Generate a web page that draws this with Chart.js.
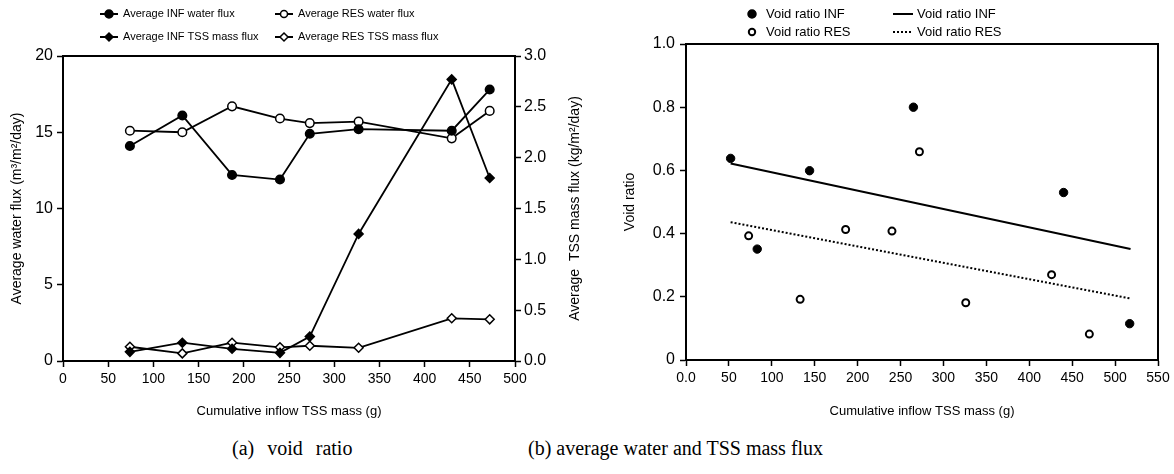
<!DOCTYPE html>
<html>
<head>
<meta charset="utf-8">
<script src="https://cdn.jsdelivr.net/npm/chart.js@4"></script>
<style>
  body { margin: 0; background: #fff; }
  #wrap { position: relative; width: 1174px; height: 474px; }
  canvas { position: absolute; top: 0; }
  .cap { position: absolute; top: 437px; font: 20px "Liberation Serif", "Times New Roman", serif; color: #000; white-space: nowrap; }
</style>
</head>
<body>
<div id="wrap">
  <canvas id="chartA" width="600" height="420" style="left:0"></canvas>
  <canvas id="chartB" width="594" height="420" style="left:580px"></canvas>
  <div class="cap" style="left:232px; word-spacing:8px">(a) void ratio</div>
  <div class="cap" style="left:528px">(b) average water and TSS mass flux</div>
</div>
<script>
// left chart: fluxes vs cumulative inflow TSS mass
const tssMass = [74, 132, 187, 240, 273, 327, 430, 472];
const infWater = [14.1, 16.1, 12.2, 11.9, 14.9, 15.2, 15.1, 17.8];
const resWater = [15.1, 15.0, 16.7, 15.9, 15.6, 15.7, 14.6, 16.4];
const infTss = [0.09, 0.18, 0.12, 0.08, 0.24, 1.25, 2.77, 1.80];
const resTss = [0.14, 0.075, 0.18, 0.135, 0.15, 0.13, 0.42, 0.41];

// right chart: void ratio
const infMass = [52, 83, 144, 265, 440, 517];
const infVoid = [0.638, 0.351, 0.599, 0.80, 0.53, 0.115];
const resMass = [73, 133, 186, 240, 272, 326, 426, 470];
const resVoid = [0.393, 0.192, 0.413, 0.408, 0.659, 0.181, 0.27, 0.082];
const infTrendX = [52, 518];
const infTrendY = [0.622, 0.351];
const resTrendX = [52, 517];
const resTrendY = [0.436, 0.195];

Chart.defaults.font.family = '"Liberation Sans", Arial, sans-serif';
Chart.defaults.color = '#000';

function pairs(xs, ys) {
    return xs.map((x, i) => ({ x: x, y: ys[i] }));
}

// top and right frame lines
const boxPlugin = {
    id: 'box',
    afterDraw(chart) {
        const a = chart.chartArea;
        const ctx = chart.ctx;
        ctx.save();
        ctx.strokeStyle = '#000';
        ctx.lineWidth = 2;
        ctx.beginPath();
        ctx.moveTo(a.left - 1, a.top);
        ctx.lineTo(a.right, a.top);
        ctx.lineTo(a.right, a.bottom);
        ctx.stroke();
        ctx.restore();
    }
};

// right axis title reads bottom to top like the left one
const rightTitlePlugin = {
    id: 'rightTitle',
    afterDraw(chart) {
        const a = chart.chartArea;
        const ctx = chart.ctx;
        ctx.save();
        ctx.translate(575, (a.top + a.bottom) / 2);
        ctx.rotate(-Math.PI / 2);
        ctx.font = '14px "Liberation Sans", Arial, sans-serif';
        ctx.fillStyle = '#000';
        ctx.textAlign = 'center';
        ctx.textBaseline = 'middle';
        ctx.fillText('Average  TSS mass flux (kg/m\u00b2/day)', 0, 0);
        ctx.restore();
    }
};

function drawMarker(ctx, style, x, y, r, fill) {
    ctx.beginPath();
    if (style === 'rectRot') {
        ctx.moveTo(x, y - r); ctx.lineTo(x + r, y); ctx.lineTo(x, y + r); ctx.lineTo(x - r, y);
        ctx.closePath();
    } else {
        ctx.arc(x, y, r, 0, Math.PI * 2);
    }
    ctx.fillStyle = fill;
    ctx.fill();
    ctx.stroke();
}

function legendPlugin(items, font) {
    return {
        id: 'customLegend',
        afterDraw(chart) {
            const ctx = chart.ctx;
            ctx.save();
            ctx.font = font;
            ctx.textBaseline = 'middle';
            ctx.strokeStyle = '#000';
            items.forEach(it => {
                if (it.line) {
                    ctx.lineWidth = 2;
                    ctx.setLineDash(it.dash || []);
                    ctx.beginPath();
                    ctx.moveTo(it.x1, it.y);
                    ctx.lineTo(it.x2, it.y);
                    ctx.stroke();
                    ctx.setLineDash([]);
                }
                if (it.marker) {
                    ctx.lineWidth = it.mw || 1.5;
                    drawMarker(ctx, it.marker, (it.x1 + it.x2) / 2, it.y, it.r, it.fill);
                }
                ctx.fillStyle = '#000';
                ctx.fillText(it.text, it.tx, it.y);
            });
            ctx.restore();
        }
    };
}

const axisBorder = { display: true, color: '#000', width: 2 };
const tickGrid = { drawOnChartArea: false, drawTicks: true, tickLength: 6, tickColor: '#000', tickWidth: 1.5 };

new Chart(document.getElementById('chartA'), {
    type: 'scatter',
    data: {
        datasets: [
            { label: 'Average INF water flux', data: pairs(tssMass, infWater), yAxisID: 'y', showLine: true,
              borderColor: '#000', borderWidth: 1.8, pointStyle: 'circle', pointRadius: 4.3,
              pointBackgroundColor: '#000', pointBorderColor: '#000', pointBorderWidth: 1.5 },
            { label: 'Average RES water flux', data: pairs(tssMass, resWater), yAxisID: 'y', showLine: true,
              borderColor: '#000', borderWidth: 1.8, pointStyle: 'circle', pointRadius: 4.3,
              pointBackgroundColor: '#fff', pointBorderColor: '#000', pointBorderWidth: 1.5 },
            { label: 'Average INF TSS mass flux', data: pairs(tssMass, infTss), yAxisID: 'y2', showLine: true,
              borderColor: '#000', borderWidth: 1.8, pointStyle: 'rectRot', pointRadius: 4.5,
              pointBackgroundColor: '#000', pointBorderColor: '#000', pointBorderWidth: 1.5 },
            { label: 'Average RES TSS mass flux', data: pairs(tssMass, resTss), yAxisID: 'y2', showLine: true,
              borderColor: '#000', borderWidth: 1.8, pointStyle: 'rectRot', pointRadius: 4.5,
              pointBackgroundColor: '#fff', pointBorderColor: '#000', pointBorderWidth: 1.5 }
        ]
    },
    options: {
        responsive: false,
        animation: false,
        layout: { padding: { left: 9, right: 17, top: 56, bottom: 0 } },
        plugins: { legend: { display: false }, tooltip: { enabled: false } },
        scales: {
            x: {
                type: 'linear', min: 0, max: 500,
                ticks: { stepSize: 50, font: { size: 14 }, padding: 4, maxRotation: 0 },
                grid: tickGrid, border: axisBorder,
                title: { display: true, text: 'Cumulative inflow TSS mass (g)', font: { size: 13 }, padding: { top: 0, bottom: 1 } },
                afterFit(s) { s.height = 59; }
            },
            y: {
                position: 'left', min: 0, max: 20,
                ticks: { stepSize: 5, font: { size: 16 }, padding: 4 },
                grid: tickGrid, border: axisBorder,
                title: { display: true, text: 'Average water flux (m\u00b3/m\u00b2/day)', font: { size: 14 }, padding: 0 },
                afterFit(s) { s.width = 54; }
            },
            y2: {
                position: 'right', min: 0, max: 3,
                ticks: { stepSize: 0.5, font: { size: 16 }, padding: 3, callback: v => v.toFixed(1) },
                grid: tickGrid, border: axisBorder,
                afterFit(s) { s.width = 68; }
            }
        }
    },
    plugins: [boxPlugin, rightTitlePlugin, legendPlugin([
        { line: true, x1: 100, x2: 118, y: 14, marker: 'circle', r: 4, fill: '#000', tx: 123, text: 'Average INF water flux' },
        { line: true, x1: 275, x2: 293, y: 14, marker: 'circle', r: 3.5, fill: '#fff', tx: 298, text: 'Average RES water flux' },
        { line: true, x1: 100, x2: 118, y: 37, marker: 'rectRot', r: 4, fill: '#000', tx: 123, text: 'Average INF TSS mass flux' },
        { line: true, x1: 275, x2: 293, y: 37, marker: 'rectRot', r: 4, fill: '#fff', tx: 298, text: 'Average RES TSS mass flux' }
    ], '11px "Liberation Sans", Arial, sans-serif')]
});

new Chart(document.getElementById('chartB'), {
    type: 'scatter',
    data: {
        datasets: [
            { label: 'Void ratio INF', data: pairs(infMass, infVoid), pointStyle: 'circle', pointRadius: 4.2,
              pointBackgroundColor: '#000', pointBorderColor: '#000', pointBorderWidth: 1 },
            { label: 'Void ratio RES', data: pairs(resMass, resVoid), pointStyle: 'circle', pointRadius: 3.5,
              pointBackgroundColor: '#fff', pointBorderColor: '#000', pointBorderWidth: 2 },
            { label: 'Void ratio INF', data: pairs(infTrendX, infTrendY), showLine: true, pointRadius: 0,
              borderColor: '#000', borderWidth: 2 },
            { label: 'Void ratio RES', data: pairs(resTrendX, resTrendY), showLine: true, pointRadius: 0,
              borderColor: '#000', borderWidth: 2, borderDash: [2, 2] }
        ]
    },
    options: {
        responsive: false,
        animation: false,
        layout: { padding: { left: 42, right: 16, top: 44, bottom: 0 } },
        plugins: { legend: { display: false }, tooltip: { enabled: false } },
        scales: {
            x: {
                type: 'linear', min: 0, max: 550,
                ticks: { stepSize: 50, font: { size: 14 }, padding: 4, maxRotation: 0,
                         callback: v => v === 0 ? '0.0' : v },
                grid: tickGrid, border: axisBorder,
                title: { display: true, text: 'Cumulative inflow TSS mass (g)', font: { size: 13 }, padding: { top: 0, bottom: 1 } },
                afterFit(s) { s.height = 60; }
            },
            y: {
                min: 0, max: 1,
                ticks: { stepSize: 0.2, font: { size: 16 }, padding: 5,
                         callback: v => v === 0 ? '0' : v.toFixed(1) },
                grid: tickGrid, border: axisBorder,
                title: { display: true, text: 'Void ratio', font: { size: 14 }, padding: 0 },
                afterFit(s) { s.width = 64; }
            }
        }
    },
    plugins: [boxPlugin, legendPlugin([
        { line: false, x1: 752, x2: 752, y: 14, marker: 'circle', r: 4, fill: '#000', tx: 766, text: 'Void ratio INF' },
        { line: false, x1: 752, x2: 752, y: 32, marker: 'circle', r: 3.2, fill: '#fff', mw: 2, tx: 766, text: 'Void ratio RES' },
        { line: true, x1: 893, x2: 913, y: 14, tx: 917, text: 'Void ratio INF' },
        { line: true, x1: 893, x2: 913, y: 32, dash: [2, 2], tx: 917, text: 'Void ratio RES' }
    ].map(it => Object.assign({}, it, { x1: it.x1 - 580, x2: it.x2 - 580, tx: it.tx - 580 })),
    '13px "Liberation Sans", Arial, sans-serif')]
});
</script>
</body>
</html>
